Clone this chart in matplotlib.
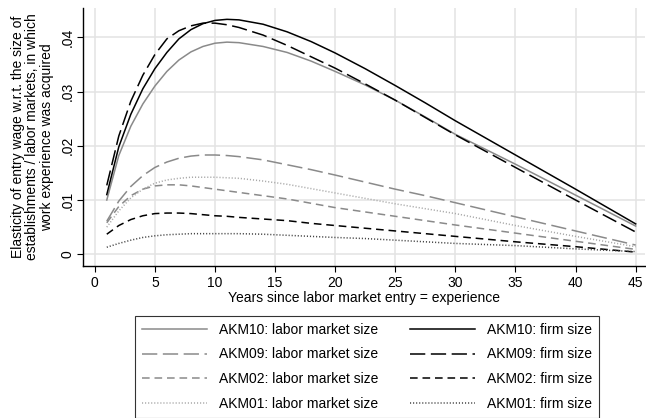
import matplotlib
matplotlib.use("Agg")
import matplotlib.pyplot as plt
from matplotlib.ticker import FixedLocator, FuncFormatter

plt.rcParams['font.family'] = ['Liberation Sans', 'DejaVu Sans']
plt.rcParams['lines.scale_dashes'] = False

# Years since labor market entry
experience = [1, 2, 3, 4, 5, 6, 7, 8, 9, 10, 11, 12, 14, 16, 18, 20,
              22.5, 25, 27.5, 30, 35, 40, 45]

# Elasticities w.r.t. labor market size
akm10_labor = [0.0100, 0.0182, 0.0236, 0.0277, 0.0310, 0.0337, 0.0358, 0.0373,
               0.0383, 0.0389, 0.0391, 0.0390, 0.0383, 0.0372, 0.0356, 0.0337,
               0.0312, 0.0284, 0.0253, 0.0221, 0.0166, 0.0109, 0.0052]
akm09_labor = [0.0061, 0.0098, 0.0125, 0.0145, 0.0160, 0.0170, 0.0177, 0.0181,
               0.0183, 0.0183, 0.0182, 0.0180, 0.0174, 0.0165, 0.0156, 0.0146,
               0.0133, 0.0120, 0.0108, 0.0095, 0.0069, 0.0043, 0.0017]
akm02_labor = [0.0058, 0.0088, 0.0108, 0.0120, 0.0126, 0.0128, 0.0128, 0.0126,
               0.0123, 0.0120, 0.0117, 0.0114, 0.0108, 0.0102, 0.0094, 0.0086,
               0.0078, 0.0070, 0.0062, 0.0054, 0.0039, 0.0024, 0.0009]
akm01_labor = [0.0050, 0.0080, 0.0104, 0.0120, 0.0131, 0.0137, 0.0140, 0.0142,
               0.0142, 0.0142, 0.0141, 0.0140, 0.0135, 0.0129, 0.0121, 0.0113,
               0.0103, 0.0093, 0.0084, 0.0075, 0.0053, 0.0033, 0.0014]

# Elasticities w.r.t. firm size
akm10_firm = [0.0110, 0.0198, 0.0258, 0.0305, 0.0342, 0.0372, 0.0397, 0.0414,
              0.0425, 0.0431, 0.0433, 0.0432, 0.0424, 0.0410, 0.0392, 0.0371,
              0.0342, 0.0311, 0.0279, 0.0246, 0.0183, 0.0120, 0.0056]
akm09_firm = [0.0127, 0.0218, 0.0282, 0.0330, 0.0368, 0.0397, 0.0412, 0.0421,
              0.0426, 0.0426, 0.0423, 0.0418, 0.0404, 0.0385, 0.0364, 0.0343,
              0.0314, 0.0284, 0.0252, 0.0220, 0.0160, 0.0100, 0.0041]
akm02_firm = [0.0037, 0.0053, 0.0064, 0.0071, 0.0075, 0.0076, 0.0076, 0.0075,
              0.0073, 0.0071, 0.0070, 0.0068, 0.0065, 0.0062, 0.0057, 0.0053,
              0.0048, 0.0043, 0.0038, 0.0033, 0.0023, 0.0014, 0.0004]
akm01_firm = [0.0013, 0.0020, 0.0026, 0.0031, 0.0034, 0.0036, 0.0037, 0.0038,
              0.0038, 0.0038, 0.0038, 0.0038, 0.0037, 0.0035, 0.0033, 0.0031,
              0.0029, 0.0026, 0.0023, 0.0020, 0.0016, 0.0010, 0.0005]

x_ticks = [0, 5, 10, 15, 20, 25, 30, 35, 40, 45]
y_ticks = [0, 0.01, 0.02, 0.03, 0.04]

fig = plt.figure(figsize=(6.46, 4.18), dpi=100)
ax = fig.add_axes([0.129, 0.3644, 0.869, 0.6166])

LONG = (0, (11, 4))
SHORT = (0, (5.5, 3.5))
DOT = (0, (0.8, 1.4))
GRAY = '#8a8a8a'
LIGHT = '#a8a8a8'

series = [
    (akm10_labor, 'AKM10: labor market size', GRAY, '-', 1.1),
    (akm09_labor, 'AKM09: labor market size', GRAY, LONG, 1.1),
    (akm02_labor, 'AKM02: labor market size', GRAY, SHORT, 1.1),
    (akm01_labor, 'AKM01: labor market size', LIGHT, DOT, 1.1),
    (akm10_firm, 'AKM10: firm size', 'black', '-', 1.1),
    (akm09_firm, 'AKM09: firm size', 'black', LONG, 1.1),
    (akm02_firm, 'AKM02: firm size', 'black', SHORT, 1.1),
    (akm01_firm, 'AKM01: firm size', '#444444', DOT, 1.1),
]

handles = []
for vals, label, color, ls, lw in series:
    h, = ax.plot(experience, vals, color=color, linestyle=ls, linewidth=lw,
                 label=label)
    handles.append(h)

ax.set_xlim(-0.95, 45.75)
ax.set_ylim(-0.0021, 0.0454)
ax.xaxis.set_major_locator(FixedLocator(x_ticks))
ax.yaxis.set_major_locator(FixedLocator(y_ticks))


def fmt_y(v, pos):
    if abs(v) < 1e-12:
        return '0'
    return ('%.2f' % v).lstrip('0')


ax.yaxis.set_major_formatter(FuncFormatter(fmt_y))
ax.grid(True, color='#e3e3e3', linewidth=1.1)
ax.set_axisbelow(True)
for side in ('top', 'right'):
    ax.spines[side].set_visible(False)
for side in ('left', 'bottom'):
    ax.spines[side].set_linewidth(1.0)
    ax.spines[side].set_color('black')

ax.tick_params(axis='both', direction='out', length=4.3, width=0.8,
               labelsize=10)
ax.tick_params(axis='x', pad=3)
ax.tick_params(axis='y', pad=2)
for lab in ax.get_yticklabels():
    lab.set_rotation(90)
    lab.set_va('center')

ax.set_xlabel('Years since labor market entry = experience', fontsize=10,
              labelpad=1)
ax.set_ylabel('Elasticity of entry wage w.r.t. the size of\n'
              'establishments / labor markets, in which\n'
              'work experience was acquired', fontsize=10,
              linespacing=1.04, labelpad=5)

leg = fig.legend(handles=handles, loc='upper center',
                 bbox_to_anchor=(0.568, 0.2447), ncol=2, fontsize=10,
                 frameon=True, fancybox=False, edgecolor='black',
                 handlelength=4.7, handletextpad=0.84, columnspacing=2.3,
                 labelspacing=0.78, borderpad=0.5, borderaxespad=0)
leg.get_frame().set_linewidth(0.8)

fig.savefig('out.png', dpi=100, facecolor='white')
